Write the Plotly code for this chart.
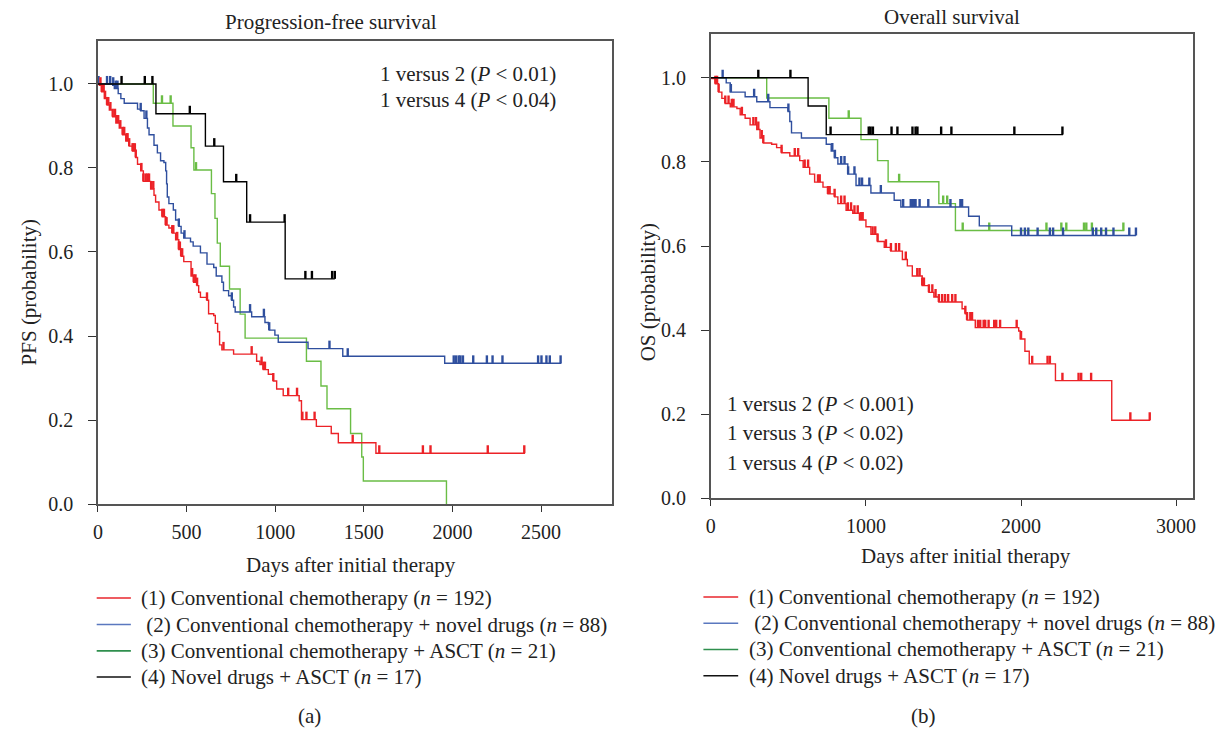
import numpy as np
import plotly.graph_objects as go

W, H = 1226, 737
FONT = "Liberation Serif"

# ---------------- Data: Progression-free survival (panel a) ----------------
pfs_red_t = [0, 8, 21, 36, 51, 64, 83, 101, 120, 139, 157, 176, 195, 213, 223, 241, 256, 297, 316, 325,
             344, 363, 382, 400, 419, 438, 456, 469, 484, 525, 540, 559, 568, 578, 615, 624, 653, 662, 675, 686,
             699, 765, 895, 914, 933, 961, 989, 1008, 1045, 1135, 1148, 1232, 1316, 1356, 1568, 2409]
pfs_red_s = [1.0, 0.997, 0.981, 0.965, 0.950, 0.938, 0.922, 0.907, 0.895, 0.879, 0.864, 0.852, 0.840, 0.825, 0.809,
             0.793, 0.768, 0.750, 0.735, 0.719, 0.700, 0.684, 0.664, 0.657, 0.645, 0.629, 0.606, 0.590, 0.577, 0.543,
             0.528, 0.520, 0.504, 0.492, 0.485, 0.453, 0.449, 0.430, 0.410, 0.379, 0.367, 0.357, 0.340, 0.332, 0.320,
             0.309, 0.293, 0.274, 0.258, 0.246, 0.201, 0.185, 0.168, 0.146, 0.121, 0.121]
pfs_red_cens = [14, 21, 27, 32, 40, 51, 58, 70, 83, 96, 107, 114, 126, 139, 148, 161, 167, 176, 195, 200, 208, 213,
                245, 256, 269, 279, 288, 301, 312, 363, 372, 382, 387, 419, 425, 447, 456, 462, 469, 475, 531, 540,
                550, 559, 615, 708, 867, 923, 933, 942, 989, 1073, 1123, 1153, 1176, 1222, 1437, 1587, 1833, 1876,
                2199, 2405]

pfs_blue_t = [0, 83, 92, 114, 129, 148, 223, 241, 260, 279, 288, 316, 335, 353, 372, 382, 387, 391, 400, 425,
              438, 456, 469, 484, 522, 537, 578, 615, 653, 667, 699, 708, 737, 755, 765, 774, 867, 942, 961, 966,
              998, 1017, 1185, 1381, 1956, 2614]
pfs_blue_s = [1.0, 0.997, 0.989, 0.977, 0.965, 0.954, 0.940, 0.936, 0.918, 0.895, 0.879, 0.854, 0.836, 0.817, 0.813,
              0.793, 0.762, 0.731, 0.715, 0.700, 0.676, 0.661, 0.645, 0.633, 0.624, 0.614, 0.598, 0.571, 0.563, 0.543,
              0.528, 0.508, 0.496, 0.485, 0.469, 0.457, 0.446, 0.432, 0.428, 0.414, 0.402, 0.385, 0.370, 0.352, 0.335,
              0.335]
pfs_blue_cens = [3, 51, 69, 86, 100, 110, 241, 273, 456, 488, 755, 858, 936, 966, 1306, 1409, 2007, 2020, 2035,
                 2045, 2059, 2117, 2194, 2226, 2282, 2483, 2502, 2530, 2549, 2610]

pfs_green_t = [0, 312, 423, 525, 541, 640, 660, 673, 690, 742, 802, 830, 1176, 1258, 1292, 1425, 1488, 1497, 1966]
pfs_green_s = [1.0, 0.954, 0.900, 0.848, 0.795, 0.739, 0.680, 0.621, 0.566, 0.512, 0.452, 0.395, 0.340, 0.281,
               0.227, 0.168, 0.112, 0.055, 0.0]
pfs_green_cens = [361, 410, 553]

pfs_black_t = [0, 327, 606, 708, 839, 1056, 1336]
pfs_black_s = [1.0, 0.929, 0.852, 0.767, 0.671, 0.536, 0.536]
pfs_black_cens = [133, 264, 307, 518, 656, 780, 858, 1053, 1170, 1207, 1321, 1336]

# ---------------- Data: Overall survival (panel b) ----------------
os_red_t = [0, 7, 29, 50, 71, 93, 125, 168, 189, 221, 253, 296, 317, 338, 392, 424, 456, 509, 573, 595,
            637, 669, 723, 755, 798, 819, 872, 915, 958, 1000, 1032, 1075, 1118, 1160, 1235, 1267, 1299, 1363,
            1406, 1438, 1470, 1620, 1641, 1652, 1705, 1985, 1995, 2025, 2053, 2222, 2585, 2833]
os_red_s = [1.0, 0.998, 0.986, 0.966, 0.951, 0.939, 0.931, 0.927, 0.912, 0.904, 0.888, 0.877, 0.857, 0.845, 0.842,
            0.834, 0.822, 0.814, 0.803, 0.787, 0.771, 0.752, 0.740, 0.724, 0.717, 0.701, 0.685, 0.678, 0.662, 0.646,
            0.628, 0.611, 0.597, 0.588, 0.568, 0.553, 0.529, 0.506, 0.490, 0.479, 0.467, 0.451, 0.439, 0.424, 0.406,
            0.398, 0.379, 0.350, 0.320, 0.280, 0.186, 0.186]
os_red_cens = [29, 40, 50, 93, 114, 135, 146, 200, 274, 291, 306, 328, 338, 456, 541, 563, 605, 627, 691, 702, 755,
               766, 798, 840, 862, 883, 904, 926, 947, 968, 979, 1043, 1060, 1075, 1129, 1161, 1193, 1214, 1257, 1331,
               1346, 1363, 1374, 1406, 1428, 1449, 1470, 1491, 1510, 1530, 1556, 1577, 1641, 1652, 1673, 1684, 1722,
               1737, 1759, 1769, 1791, 1827, 1840, 1865, 1972, 2000, 2072, 2171, 2186, 2267, 2371, 2388, 2452, 2705,
               2830]

os_blue_t = [0, 99, 125, 221, 296, 381, 498, 509, 520, 584, 744, 776, 797, 819, 883, 936, 1032, 1182, 1225, 1662,
             1731, 1940, 2741]
os_blue_s = [1.0, 0.988, 0.966, 0.955, 0.943, 0.929, 0.920, 0.896, 0.869, 0.857, 0.842, 0.826, 0.810, 0.795, 0.771,
             0.744, 0.726, 0.709, 0.693, 0.671, 0.648, 0.625, 0.625]
os_blue_cens = [76, 129, 279, 370, 500, 783, 800, 840, 862, 885, 926, 958, 975, 1022, 1096, 1240, 1289, 1300, 1310,
                1320, 1346, 1402, 1545, 1609, 1620, 2000, 2025, 2047, 2107, 2186, 2207, 2271, 2463, 2485, 2517, 2548,
                2596, 2698, 2741]

os_green_t = [0, 360, 761, 968, 1075, 1143, 1470, 1577, 2666]
os_green_s = [1.0, 0.952, 0.904, 0.853, 0.803, 0.753, 0.701, 0.637, 0.637]
os_green_cens = [889, 1214, 1498, 1524, 1624, 1795, 2164, 2260, 2292, 2406, 2421, 2457, 2660]

os_black_t = [0, 627, 744, 2271]
os_black_s = [1.0, 0.933, 0.865, 0.865]
os_black_cens = [306, 513, 772, 1018, 1030, 1045, 1165, 1203, 1300, 1320, 1332, 1485, 1551, 1957, 2267]

legend_labels = [
    "(1) Conventional chemotherapy (<i>n</i> = 192)",
    " (2) Conventional chemotherapy + novel drugs (<i>n</i> = 88)",
    "(3) Conventional chemotherapy + ASCT (<i>n</i> = 21)",
    "(4) Novel drugs + ASCT (<i>n</i> = 17)",
]
pfs_pvals = ["1 versus 2 (<i>P</i> &lt; 0.01)", "1 versus 4 (<i>P</i> &lt; 0.04)"]
os_pvals = ["1 versus 2 (<i>P</i> &lt; 0.001)", "1 versus 3 (<i>P</i> &lt; 0.02)", "1 versus 4 (<i>P</i> &lt; 0.02)"]

x_ticks_a = [0, 500, 1000, 1500, 2000, 2500]
x_ticks_b = [0, 1000, 2000, 3000]
y_ticks = [0.0, 0.2, 0.4, 0.6, 0.8, 1.0]

# ---------------- Styles ----------------
C_RED, C_BLUE, C_GREEN, C_BLACK = "#ec2227", "#2f4f9e", "#6abd45", "#000000"
L_RED, L_BLUE, L_GREEN, L_BLACK = "#e8262c", "#5a78bf", "#2f8f4e", "#111111"
TICK_H = 0.019
TXT_SIZE = 21
TICK_SIZE = 20

fig = go.Figure()


def add_km(t, s, cens, color, xa, ya):
    fig.add_trace(go.Scatter(x=t, y=s, mode="lines", line=dict(shape="hv", color=color, width=1.4),
                             xaxis=xa, yaxis=ya, showlegend=False, hoverinfo="skip"))
    ta = np.asarray(t, float)
    sa = np.asarray(s, float)
    xs, ys = [], []
    for c in cens:
        i = np.searchsorted(ta, c, side="right") - 1
        v = float(sa[max(i, 0)])
        xs += [c, c, None]
        ys += [v, v + TICK_H, None]
    fig.add_trace(go.Scatter(x=xs, y=ys, mode="lines", line=dict(color=color, width=2.4),
                             xaxis=xa, yaxis=ya, showlegend=False, hoverinfo="skip"))


add_km(pfs_green_t, pfs_green_s, pfs_green_cens, C_GREEN, "x", "y")
add_km(pfs_blue_t, pfs_blue_s, pfs_blue_cens, C_BLUE, "x", "y")
add_km(pfs_red_t, pfs_red_s, pfs_red_cens, C_RED, "x", "y")
add_km(pfs_black_t, pfs_black_s, pfs_black_cens, C_BLACK, "x", "y")

add_km(os_green_t, os_green_s, os_green_cens, C_GREEN, "x2", "y2")
add_km(os_blue_t, os_blue_s, os_blue_cens, C_BLUE, "x2", "y2")
add_km(os_red_t, os_red_s, os_red_cens, C_RED, "x2", "y2")
add_km(os_black_t, os_black_s, os_black_cens, C_BLACK, "x2", "y2")


def px(x):
    return x / W


def py(y):
    return 1 - y / H


axis_common = dict(showline=True, mirror=True, linecolor="#555555", linewidth=1.6, showgrid=False,
                   zeroline=False, ticks="outside", tickcolor="#333333", tickwidth=1.4,
                   tickfont=dict(family=FONT, size=TICK_SIZE, color="#222222"))

fig.update_layout(
    width=W, height=H, margin=dict(l=0, r=0, t=0, b=0),
    paper_bgcolor="white", plot_bgcolor="white", showlegend=False,
    xaxis=dict(domain=[px(93.6), px(611)], range=[0, 2900], tickvals=x_ticks_a, ticklen=6,
               anchor="y", ticklabelstandoff=3, **axis_common),
    yaxis=dict(domain=[py(511.7), py(41.7)], range=[0, 1.102], tickvals=y_ticks, tickformat=".1f",
               ticklen=8, anchor="x", ticklabelstandoff=11, **axis_common),
    xaxis2=dict(domain=[px(710.5), px(1195.5)], range=[0, 3107], tickvals=x_ticks_b, ticklen=6,
                anchor="y2", ticklabelstandoff=3, **axis_common),
    yaxis2=dict(domain=[py(506), py(35)], range=[0, 1.103], tickvals=y_ticks, tickformat=".1f",
                ticklen=8, anchor="x2", ticklabelstandoff=11, **axis_common),
)

ann = []
shapes = []


def text(x, y, s, xanchor="left", angle=0, size=TXT_SIZE):
    ann.append(dict(x=px(x), y=py(y), xref="paper", yref="paper", text=s, showarrow=False,
                    xanchor=xanchor, yanchor="middle", textangle=angle, borderpad=0,
                    font=dict(family=FONT, size=size, color="#222222")))


# titles
text(220, 22, "Progression-free survival")
text(884, 17, "Overall survival")
# p-values
for i, s in enumerate(pfs_pvals):
    text(376, 75 + 27 * i, s)
for i, s in enumerate(os_pvals):
    text(726, 410 + 30 * i, s)
# axis titles
text(24, 297, "PFS (probability)", xanchor="center", angle=-90)
text(647, 297, "OS (probability)", xanchor="center", angle=-90)
text(348, 574, "Days after initial therapy", xanchor="center")
text(967, 564, "Days after initial therapy", xanchor="center")
# legends
leg_cols = [L_RED, L_BLUE, L_GREEN, L_BLACK]
for lx0, lx1, tx, ys in [(92.3, 126.7, 136, [607, 634, 660.7, 687.3]),
                         (703, 738, 748, [606, 632.7, 659.3, 686])]:
    for lab, col, yy in zip(legend_labels, leg_cols, ys):
        shapes.append(dict(type="line", xref="paper", yref="paper", x0=px(lx0), x1=px(lx1),
                           y0=py(yy), y1=py(yy), line=dict(color=col, width=1.6)))
        text(tx, yy, lab)
text(307, 727, "(a)", xanchor="center")
text(925, 727, "(b)", xanchor="center")

fig.update_layout(annotations=ann, shapes=shapes)
fig.write_html("out.html", config={"displayModeBar": False},
               post_script="document.body.style.margin='0';document.body.style.overflow='hidden';")
